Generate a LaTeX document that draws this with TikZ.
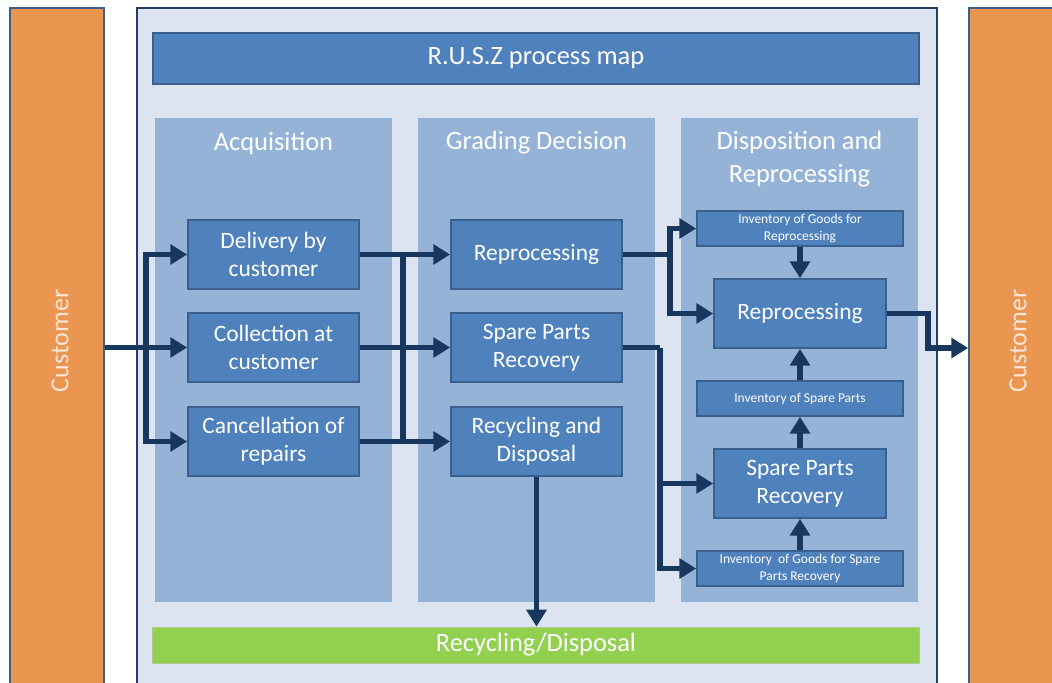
\documentclass[tikz,border=0pt]{standalone}
\usepackage{fontspec}
\setmainfont{Carlito}
\usetikzlibrary{arrows.meta,positioning}
\definecolor{custorange}{HTML}{EB9650}
\definecolor{custtext}{HTML}{FCE4D6}
\definecolor{frameblue}{HTML}{DBE4F0}
\definecolor{frameline}{HTML}{243F66}
\definecolor{colblue}{HTML}{95B3D7}
\definecolor{boxblue}{HTML}{4F81BD}
\definecolor{boxline}{HTML}{3A5F8C}
\definecolor{flowblue}{HTML}{17375E}
\definecolor{recgreen}{HTML}{92D050}
\tikzset{
  proc/.style={rectangle,draw=boxline,fill=boxblue,line width=1.2pt,text=white,align=center,
    minimum width=4.275cm,minimum height=1.725cm,inner sep=0pt,font=\fontsize{16.7}{20}\selectfont},
  stock/.style={proc,minimum width=5.15cm,minimum height=0.875cm,font=\fontsize{9.6}{12.5}\selectfont},
  col/.style={rectangle,fill=colblue,minimum width=5.925cm,minimum height=12.1cm,inner sep=0pt},
  head/.style={text=white,align=center,font=\fontsize{18.8}{23.5}\selectfont},
  cust/.style={rectangle,draw=boxline,fill=custorange,line width=1.2pt,minimum width=2.35cm,minimum height=17.1cm},
  flow/.style={draw=flowblue,line width=4pt,-{Triangle[length=12pt,width=14pt]}},
  bus/.style={draw=flowblue,line width=4pt}
}

\begin{document}
\begin{tikzpicture}[x=0.025cm,y=-0.025cm]
    \useasboundingbox (0,0) rectangle (1052,683);

    % customers on both sides
    \node[cust] (custL) at (57,350) {};
    \node[cust] (custR) at (1016,350) {};
    \node[text=custtext,rotate=90,font=\fontsize{18.5}{22}\selectfont] (custLtxt) at (60,341) {Customer};
    \node[text=custtext,rotate=90,font=\fontsize{18.5}{22}\selectfont] (custRtxt) at (1018,341) {Customer};

    % process map frame
    \node[rectangle,draw=frameline,fill=frameblue,line width=1.4pt,minimum width=20cm,minimum height=17.3cm] (frame) at (537,354) {};
    \node[proc,minimum width=19.15cm,minimum height=1.275cm,font=\fontsize{18.8}{23}\selectfont] (title) at (536,58.5) {R.U.S.Z process map};

    % columns
    \node[col] (acqcol) at (273.5,360) {};
    \node[col] (gradecol) at (536.5,360) {};
    \node[col] (dispcol) at (799.5,360) {};
    \node[head] (acqhead) at (273.5,143) {Acquisition};
    \node[head] (gradehead) at (536.5,143) {Grading Decision};
    \node[head] (disphead) at (799.5,159) {Disposition and\\Reprocessing};

    % acquisition
    \node[proc] (deliver) at (273.5,254.5) {Delivery by\\customer};
    \node[proc] (collect) at (273.5,347.5) {Collection at\\customer};
    \node[proc] (cancel) at (273.5,441.5) {Cancellation of\\repairs};

    % grading decision
    \node[proc] (reproc) at (536.5,254.5) {Reprocessing};
    \node[proc] (spare) at (536.5,347.5) {Spare Parts\\Recovery};
    \node[proc] (recyc) at (536.5,441.5) {Recycling and\\Disposal};

    % disposition and reprocessing
    \node[stock] (invre) at (800,228.5) {Inventory of Goods for\\Reprocessing};
    \node[proc,minimum width=4.3cm] (reproc2) at (800,313.5) {Reprocessing};
    \node[stock] (invsp) at (800,398.5) {Inventory of Spare Parts};
    \node[proc,minimum width=4.3cm] (spare2) at (800,483.5) {Spare Parts\\Recovery};
    \node[stock] (invsp2) at (800,568.5) {Inventory\ \ of Goods for Spare\\Parts Recovery};

    \node[rectangle,draw=recgreen!80!black!60,fill=recgreen,line width=0.6pt,minimum width=19.15cm,minimum height=0.9cm,
      text=white,font=\fontsize{18.8}{23}\selectfont] (green) at (536,645) {Recycling/Disposal};

    % flows
    \coordinate (split) at (146,347.5);
    \coordinate (bus) at (403,347.5);
    \coordinate (fork) at (670,254.5);
    \coordinate (fork2) at (660,347.5);
    \coordinate (out) at (928,348);

    \draw[flow] (custL.east |- split) -- (collect.west);
    \draw[flow] (split) |- (deliver.west);
    \draw[flow] (split) |- (cancel.west);

    \draw[bus] (bus |- deliver) -- (bus |- cancel);
    \draw[flow] (deliver.east) -- (reproc.west);
    \draw[flow] (collect.east) -- (spare.west);
    \draw[flow] (cancel.east) -- (recyc.west);

    \draw[bus] (reproc.east) -- (fork);
    \draw[flow] (fork) |- (invre.west);
    \draw[flow] (fork) |- (reproc2.west);
    \draw[bus] (spare.east) -- (fork2);
    \draw[flow] (fork2) |- (spare2.west);
    \draw[flow] (fork2) |- (invsp2.west);
    \draw[flow] (recyc.south) -- (recyc.south |- green.north);

    \draw[flow] (invre.south) -- (reproc2.north);
    \draw[flow] (invsp.north) -- (reproc2.south);
    \draw[flow] (spare2.north) -- (invsp.south);
    \draw[flow] (invsp2.north) -- (spare2.south);
    \draw[flow] (reproc2.east) -| (out) -- (custR.west |- out);
\end{tikzpicture}
\end{document}
